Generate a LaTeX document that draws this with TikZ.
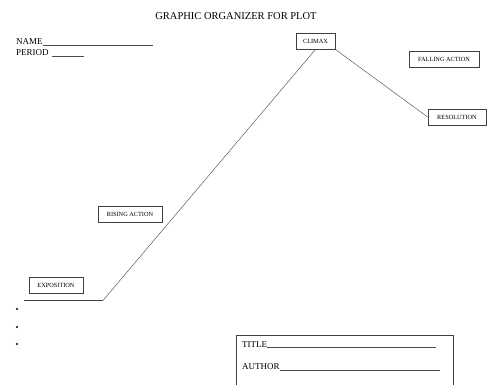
\documentclass[tikz,border=0pt]{standalone}
\usepackage{fontspec}
\setmainfont{Liberation Serif}
\begin{document}
\begin{tikzpicture}[x=1pt, y=-1pt, every node/.style={inner sep=0pt},
	stagebox/.style={draw, thick, draw=black!75, font=\fontsize{6.3}{7}\selectfont, minimum height=16pt, inner xsep=5pt},
	blank/.style={draw, black!70}]
	\useasboundingbox (0,0) rectangle (488,385);
	\clip (0,0) rectangle (488,385);
	
	\node (title) at (236, 16) {\fontsize{10.5}{12}\selectfont GRAPHIC ORGANIZER FOR PLOT};
	\node[anchor=base west] (name) at (16, 45) {\fontsize{9}{10}\selectfont NAME};
	\node[anchor=base west] (period) at (16, 56) {\fontsize{9}{10}\selectfont PERIOD};
	
	\node[stagebox, minimum width=39pt] (climax) at (315.5, 41) {CLIMAX};
	\node[stagebox, minimum width=70pt] (falling) at (444, 59) {FALLING ACTION};
	\node[stagebox, minimum width=58pt] (resolution) at (457, 117) {RESOLUTION};
	\node[stagebox, minimum width=64pt] (rising) at (130, 214) {RISING ACTION};
	\node[stagebox, minimum width=54pt] (exposition) at (56, 285) {EXPOSITION};
	
	\coordinate (0) at (24, 300.5);
	\coordinate (1) at (103, 300.5);
	\coordinate (2) at (climax.south);
	
	\path[draw, black!75]
	(0) edge (1)
	(1) edge (2)
	(climax.south east) edge (resolution.west)
	;
	
	% blanks
	\draw[blank] (name.base east) -- ++(110, 0);
	\draw[blank] (period.base east) ++(3, 0) -- ++(32, 0);
	
	\foreach \y in {309, 327, 344}
		\fill (17, \y) circle (1.1pt);
	
	% title and author box
	\node[draw, black!75, anchor=north west, minimum width=217pt, minimum height=60pt] (book) at (236, 335) {};
	\node[anchor=base west] (booktitle) at (242, 347) {\fontsize{9}{10}\selectfont TITLE};
	\node[anchor=base west] (author) at (242, 370) {\fontsize{9}{10}\selectfont AUTHOR};
	\draw[blank] (booktitle.base east) -- (436, 347);
	\draw[blank] (author.base east) -- (440, 370);
\end{tikzpicture}
\end{document}
